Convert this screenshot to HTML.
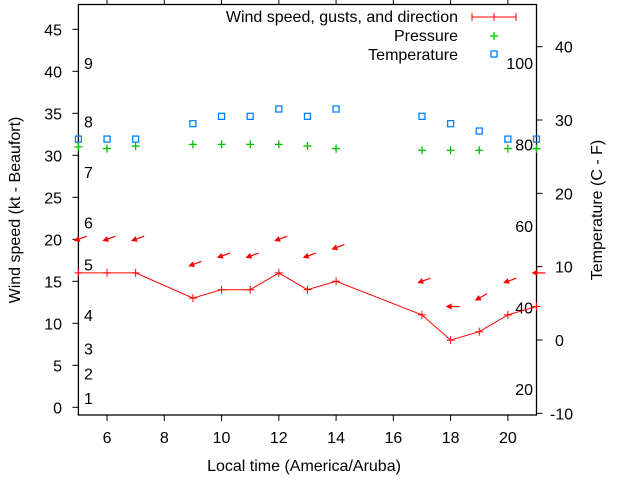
<!DOCTYPE html>
<html><head><meta charset="utf-8"><style>
body{margin:0;background:#fff}
svg{display:block;font-family:"Liberation Sans",sans-serif;font-size:16px}
</style></head><body>
<svg id="c" width="640" height="480" viewBox="0 0 640 480"></svg>
<script>
const hours=[5,6,7,9,10,11,12,13,14,17,18,19,20,21];
const windSpeed=[16,16,16,13,14,14,16,14,15,11,8,9,11,12];
const gusts=[20,20,20,17,18,18,20,18,19,15,12,13,15,16];
const windDir=[70,70,70,70,70,70,70,70,70,70,90,60,70,90];
const pressure=[31.0,30.8,31.1,31.3,31.3,31.3,31.3,31.1,30.8,30.6,30.6,30.6,30.8,30.8];
const tempC=[27.4,27.4,27.4,29.5,30.5,30.5,31.5,30.5,31.5,30.5,29.5,28.5,27.4,27.4];
const xTicks=[6,8,10,12,14,16,18,20];
const yTicks=[0,5,10,15,20,25,30,35,40,45];
const y2Ticks=[-10,0,10,20,30,40];
const beaufortLabels=["1","2","3","4","5","6","7","8","9"];
const beaufortKt=[1.1,4,7,11,17,22,28,34,41];
const fLabels=["20","40","60","80","100"];
const fValues=[20,40,60,80,100];

const L=78.4,R=536.5,T=4.5,B=415;
const X=h=>L+(h-5)*(R-L)/16;
const Y=v=>407.3-v*8.4;
const Y2=c=>340-c*7.333;
const YF=f=>Y2((f-32)*5/9);
const svg=document.getElementById('c');
const NS='http://www.w3.org/2000/svg';
function mk(t,a,p){const e=document.createElementNS(NS,t);for(const k in a)e.setAttribute(k,a[k]);(p||svg).appendChild(e);return e;}

let e;
e=mk('rect',{x:L,y:T,width:R-L,height:B-T,fill:'none',stroke:'#000','stroke-width':1.3});



xTicks.forEach(h=>{
  e=mk('line',{x1:X(h),x2:X(h),y1:B,y2:B+6,stroke:'#000'});
  
  
  e=mk('line',{x1:X(h),x2:X(h),y1:T,y2:T-6,stroke:'#000'});
  
  
  e=mk('text',{x:X(h),y:443,'text-anchor':'middle',fill:'#000'});e.textContent=h;
  
  
});
yTicks.forEach(v=>{
  e=mk('line',{x1:L-6,x2:L,y1:Y(v),y2:Y(v),stroke:'#000'});
  
  
  e=mk('text',{x:62,y:Y(v)+6,'text-anchor':'end',fill:'#000'});e.textContent=v;
  
  
});
y2Ticks.forEach(v=>{
  e=mk('line',{x1:R,x2:R+6,y1:Y2(v),y2:Y2(v),stroke:'#000'});
  
  
  e=mk('text',{x:v<0?550:555,y:Y2(v)+6,'text-anchor':'start',fill:'#000'});e.textContent=v;
  
  
});
beaufortLabels.forEach((s,i)=>{
  e=mk('text',{x:84,y:Y(beaufortKt[i])+6,fill:'#000'});e.textContent=s;
  
  
});
fLabels.forEach((s,i)=>{
  e=mk('text',{x:533,y:YF(fValues[i])+6,'text-anchor':'end',fill:'#000'});e.textContent=s;
  
  
});

e=mk('text',{x:304,y:471,'text-anchor':'middle',fill:'#000'});e.textContent='Local time (America/Aruba)';


e=mk('text',{x:0,y:0,'text-anchor':'middle',fill:'#000',transform:'translate(20,210) rotate(-90)'});e.textContent='Wind speed (kt - Beaufort)';


e=mk('text',{x:0,y:0,'text-anchor':'middle',fill:'#000',transform:'translate(602,210) rotate(-90)'});e.textContent='Temperature (C - F)';



e=mk('polyline',{points:hours.map((h,i)=>X(h)+','+Y(windSpeed[i])).join(' '),fill:'none',stroke:'#f00','stroke-width':1});


hours.forEach((h,i)=>{
  const x=X(h),y=Y(windSpeed[i]);
  e=mk('path',{d:`M${x-4},${y}H${x+4}M${x},${y-4}V${y+4}`,stroke:'#f00'});
  
  
  const gx=X(h),gy=Y(gusts[i]);
  const a=windDir[i]*Math.PI/180;
  const dx=Math.sin(a),dy=-Math.cos(a);
  const tx=gx+dx*9,ty=gy+dy*9,hx=gx-dx*3,hy=gy-dy*3;
  const g=mk('g',{});
  
  
  mk('line',{x1:tx,y1:ty,x2:hx,y2:hy,stroke:'#f00','stroke-width':1.2},g);
  const px=-dy,py=dx;
  mk('polygon',{points:`${hx-dx*2},${hy-dy*2} ${hx+dx*4+px*3},${hy+dy*4+py*3} ${hx+dx*4-px*3},${hy+dy*4-py*3}`,fill:'#f00'},g);
});
hours.forEach((h,i)=>{
  const x=X(h),y=Y(pressure[i]);
  e=mk('path',{d:`M${x-4},${y}H${x+4}M${x},${y-4}V${y+4}`,stroke:'#00c000','stroke-width':1.3});
  
  
});
hours.forEach((h,i)=>{
  const x=X(h),y=Y2(tempC[i]);
  e=mk('rect',{x:x-3,y:y-3,width:6,height:6,fill:'none',stroke:'#0080ff','stroke-width':1.3});
  
  
});

const lg=mk('g',{});


e=mk('text',{x:458,y:22,'text-anchor':'end',fill:'#000'},lg);e.textContent='Wind speed, gusts, and direction';


e=mk('path',{d:'M472,17H516M472,13V21M516,13V21M494,13V21',stroke:'#f00'},lg);


e=mk('text',{x:458,y:41,'text-anchor':'end',fill:'#000'},lg);e.textContent='Pressure';


e=mk('path',{d:'M490,36H498M494,32V40',stroke:'#00c000','stroke-width':1.3},lg);


e=mk('text',{x:458,y:60,'text-anchor':'end',fill:'#000'},lg);e.textContent='Temperature';


e=mk('rect',{x:491,y:51,width:6,height:6,fill:'none',stroke:'#0080ff','stroke-width':1.3},lg);


</script>
</body></html>
